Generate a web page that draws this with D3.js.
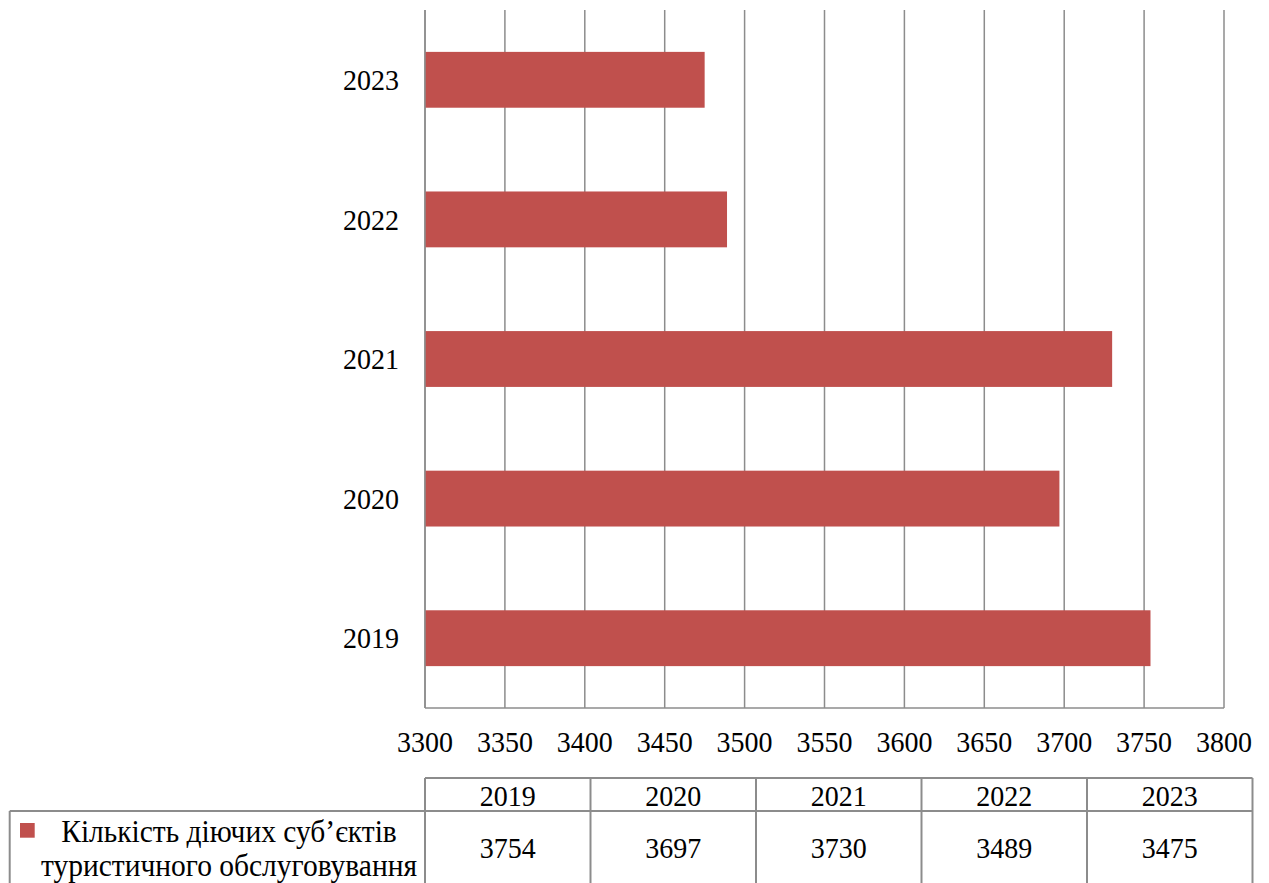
<!DOCTYPE html>
<html>
<head>
<meta charset="utf-8">
<script src="https://cdn.jsdelivr.net/npm/d3@7"></script>
<style>
  html, body { margin: 0; padding: 0; background: #fff; }
  svg { display: block; }
</style>
</head>
<body>
<svg id="chart" width="1269" height="883"></svg>
<script>
// Number of active tourism service entities by year
const years = ["2019", "2020", "2021", "2022", "2023"];
const values = [3754, 3697, 3730, 3489, 3475];
const xTicks = [3300, 3350, 3400, 3450, 3500, 3550, 3600, 3650, 3700, 3750, 3800];
const seriesName = ["Кількість діючих суб’єктів", "туристичного обслуговування"];

const barColor = "#C0504D";
const gridColor = "#8c8c8c";
const fontSize = 28;
const legendFontSize = 29.5;
const stretchY = 1.06;
const serif = "\"Liberation Serif\"";

const svg = d3.select("#chart");
const plot = { left: 425, right: 1224, top: 10, bottom: 708 };

// shared text styling; text is placed with a transform so glyphs can be slightly tall
function label(sel, fx, fy, size = fontSize) {
  return sel.style("font-family", serif)
    .attr("font-size", size)
    .attr("fill", "#000")
    .attr("dominant-baseline", "central")
    .attr("transform", (d, i) => `translate(${fx(d, i)},${fy(d, i)}) scale(1,${stretchY})`);
}

const x = d3.scaleLinear().domain([3300, 3800]).range([plot.left, plot.right]);
const y = d3.scaleBand()
  .domain(years.slice().reverse())
  .range([plot.top, plot.bottom])
  .paddingInner(0.6)
  .paddingOuter(0.3);

// vertical gridlines
svg.append("g").selectAll("line")
  .data(xTicks)
  .join("line")
  .attr("x1", d => x(d)).attr("x2", d => x(d))
  .attr("y1", plot.top).attr("y2", plot.bottom)
  .attr("stroke", gridColor).attr("stroke-width", 1.5);

// bars
svg.append("g").selectAll("rect")
  .data(years.map((yr, i) => ({ yr, v: values[i] })))
  .join("rect")
  .attr("x", x(3300))
  .attr("y", d => y(d.yr))
  .attr("width", d => x(d.v) - x(3300))
  .attr("height", y.bandwidth())
  .attr("fill", barColor);

// baseline axes
svg.append("line")
  .attr("x1", plot.left).attr("x2", plot.right)
  .attr("y1", plot.bottom).attr("y2", plot.bottom)
  .attr("stroke", gridColor).attr("stroke-width", 1.5);
svg.append("line")
  .attr("x1", plot.left).attr("x2", plot.left)
  .attr("y1", plot.top).attr("y2", plot.bottom)
  .attr("stroke", gridColor).attr("stroke-width", 1.5);

// x tick labels
svg.append("g").selectAll("text")
  .data(xTicks)
  .join("text")
  .call(label, d => x(d), () => 742)
  .attr("text-anchor", "middle")
  .text(d => d);

// category labels
svg.append("g").selectAll("text")
  .data(years)
  .join("text")
  .call(label, () => 399, d => y(d) + y.bandwidth() / 2)
  .attr("text-anchor", "end")
  .text(d => d);

// data table
const tbl = { left: 9.7, colStart: 425, colEnd: 1252.5, top: 778, mid: 811, bottom: 890 };
const col = d3.scaleBand().domain(years).range([tbl.colStart, tbl.colEnd]);
const tg = svg.append("g").attr("stroke", gridColor).attr("stroke-width", 2);

tg.append("line").attr("x1", tbl.colStart).attr("x2", tbl.colEnd).attr("y1", tbl.top).attr("y2", tbl.top);
tg.append("line").attr("x1", tbl.left).attr("x2", tbl.colEnd).attr("y1", tbl.mid).attr("y2", tbl.mid);
tg.append("line").attr("x1", tbl.left).attr("x2", tbl.left).attr("y1", tbl.mid).attr("y2", tbl.bottom);
tg.selectAll("line.v")
  .data(years.map(d => col(d)).concat([tbl.colEnd]))
  .join("line").attr("class", "v")
  .attr("x1", d => d).attr("x2", d => d)
  .attr("y1", tbl.top).attr("y2", tbl.bottom);

// header years
svg.append("g").selectAll("text")
  .data(years)
  .join("text")
  .call(label, d => col(d) + col.bandwidth() / 2, () => (tbl.top + tbl.mid) / 2 + 1)
  .attr("text-anchor", "middle")
  .text(d => d);

// values row
svg.append("g").selectAll("text")
  .data(years.map((yr, i) => ({ yr, v: values[i] })))
  .join("text")
  .call(label, d => col(d.yr) + col.bandwidth() / 2, () => 848)
  .attr("text-anchor", "middle")
  .text(d => d.v);

// legend key and series name
svg.append("rect")
  .attr("x", 20).attr("y", 823)
  .attr("width", 14.7).attr("height", 14.7)
  .attr("fill", barColor);
svg.append("g").selectAll("text")
  .data(seriesName)
  .join("text")
  .call(label, () => 229, (d, i) => 832 + i * 34, legendFontSize)
  .attr("text-anchor", "middle")
  .text(d => d);
</script>
</body>
</html>
